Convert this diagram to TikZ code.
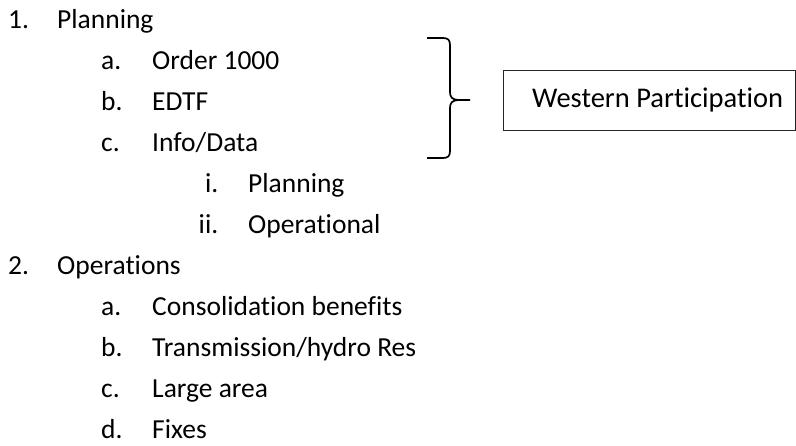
\documentclass[tikz,border=0pt]{standalone}
\usepackage{fontspec}
\setmainfont{Carlito}[RawFeature={-liga;-clig}]
\begin{document}
\begin{tikzpicture}[x=1pt,y=-1pt,
  txt/.style={anchor=base west,inner sep=0pt,font=\fontsize{27.5}{33}\selectfont},
  lbl/.style={anchor=base east,inner sep=0pt,font=\fontsize{27.5}{33}\selectfont},
  bracestyle/.style={line width=1.7pt,line join=round},
  boxstyle/.style={draw=black!85,line width=0.9pt,inner sep=0pt}]
\useasboundingbox (0,0) rectangle (796,445);
% level 1
\node[txt] (n1) at (8,28) {1.};
\node[txt] (t1) at (57,28) {Planning};
\node[txt] (n1a) at (101,69) {a.};
\node[txt] (t1a) at (152,69) {Order 1000};
\node[txt] (n1b) at (101,110) {b.};
\node[txt] (t1b) at (152,110) {EDTF};
\node[txt] (n1c) at (101,151) {c.};
\node[txt] (t1c) at (152,151) {Info/Data};
\node[lbl] (n1ci) at (218.5,192) {i.};
\node[txt] (t1ci) at (248,192) {Planning};
\node[lbl] (n1cii) at (218.5,233) {ii.};
\node[txt] (t1cii) at (248,233) {Operational};
\node[txt] (n2) at (8,274) {2.};
\node[txt] (t2) at (57,274) {Operations};
\node[txt] (n2a) at (101,315) {a.};
\node[txt] (t2a) at (152,315) {Consolidation benefits};
\node[txt] (n2b) at (101,356) {b.};
\node[txt] (t2b) at (152,356) {Transmission/hydro Res};
\node[txt] (n2c) at (101,397) {c.};
\node[txt] (t2c) at (152,397) {Large area};
\node[txt] (n2d) at (101,438) {d.};
\node[txt] (t2d) at (152,438) {Fixes};
% brace
\draw[bracestyle] (427,38) -- (443,38) .. controls (448,38) and (450,40) .. (450,45)
  -- (450,92) .. controls (450,97) and (452,99.5) .. (458,100) -- (470,100);
\draw[bracestyle] (458,100) .. controls (452,100.5) and (450,103) .. (450,108)
  -- (450,151) .. controls (450,156) and (448,158) .. (443,158) -- (427,158);
% box
\node[boxstyle,anchor=north west,minimum width=292pt,minimum height=60pt] (box) at (503,70) {};
\node[txt,font=\fontsize{28.5}{34}\selectfont] (wp) at (532,107.5) {Western Participation};
\end{tikzpicture}
\end{document}
